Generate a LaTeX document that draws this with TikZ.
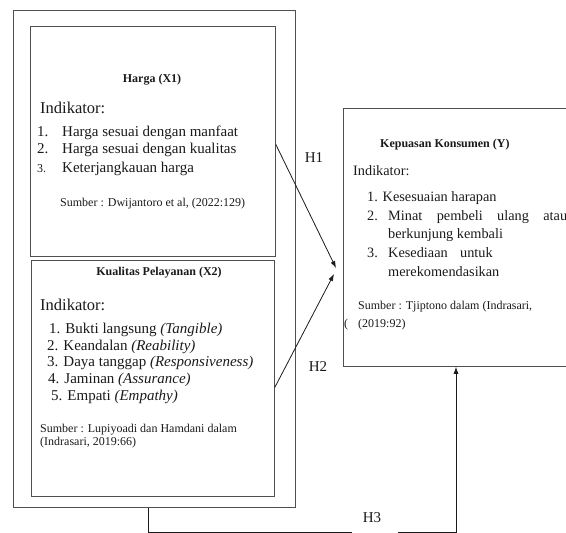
\documentclass[tikz,border=0pt]{standalone}
\usepackage{fontspec}
\setmainfont{Liberation Serif}
\usetikzlibrary{arrows.meta,calc,positioning}
\definecolor{kfink}{HTML}{1A1A1A}
\definecolor{kfline}{HTML}{505050}
\tikzset{
  kf box/.style={draw=kfline, line width=0.8pt, inner sep=0pt, anchor=north west},
  kf title/.style={font=\fontsize{12}{14}\selectfont\bfseries, text=kfink, inner sep=0pt},
  kf head/.style={font=\fontsize{16.5}{19}\selectfont, text=kfink, inner sep=0pt, anchor=west},
  kf item/.style={font=\fontsize{15}{17}\selectfont, text=kfink, inner sep=0pt, anchor=west},
  kf yitem/.style={font=\fontsize{14.3}{17}\selectfont, text=kfink, inner sep=0pt, anchor=west},
  kf src/.style={font=\fontsize{12}{14}\selectfont, text=kfink, inner sep=0pt, anchor=west},
  kf arrow/.style={-{Latex[length=7pt,width=5pt]}, line width=0.8pt, draw=kfink},
  kf hyp/.style={font=\fontsize{15}{17}\selectfont, text=kfink, inner sep=0pt}
}

\begin{document}
\begin{tikzpicture}[x=1pt, y=-1pt]
  \useasboundingbox (0,0) rectangle (566,533);
  \clip (0,0) rectangle (566,533);
  % boxes
  \node[kf box, minimum width=282pt, minimum height=497pt] (outer) at (13,10) {};
  \node[kf box, minimum width=245pt, minimum height=230pt] (harga) at (30,26) {};
  \node[kf box, minimum width=243pt, minimum height=236pt] (kual) at (31,260) {};
  \node[kf box, minimum width=240pt, minimum height=258pt] (kepuasan) at (343,108) {};

  % Harga (X1)
  \node[kf title] (hargatitle) at (152,80) {Harga (X1)};
  \node[kf head] (hargaind) at (40,108) {Indikator:};
  \node[kf item] (hargai1) at (37,133) {\makebox[25pt][l]{1.}Harga sesuai dengan manfaat};
  \node[kf item] (hargai2) at (37,150) {\makebox[25pt][l]{2.}Harga sesuai dengan kualitas};
  \node[kf item] (hargai3) at (37,169) {\makebox[25pt][l]{\fontsize{12}{14}\selectfont 3.}Keterjangkauan harga};
  \node[kf src] (hargasrc) at (60,204) {Sumber : Dwijantoro et al, (2022:129)};

  % Kualitas Pelayanan (X2)
  \node[kf title] (kualtitle) at (159,273) {Kualitas Pelayanan (X2)};
  \node[kf head] (kualind) at (40,305) {Indikator:};
  \foreach \i/\x/\y/\lab in {1/49/330/Bukti langsung \textit{(Tangible)},
      2/47/347/Keandalan \textit{(Reability)},
      3/47/363/Daya tanggap \textit{(Responsiveness)},
      4/48/380/Jaminan \textit{(Assurance)},
      5/51/397/Empati \textit{(Empathy)}} {
    \node[kf item] (kuali\i) at (\x,\y) {\i. \lab};
  }
  \node[kf src] (kualsrc1) at (40,430) {Sumber : Lupiyoadi dan Hamdani dalam};
  \node[kf src] (kualsrc2) at (40,443) {(Indrasari, 2019:66)};

  % Kepuasan Konsumen (Y)
  \node[kf title, anchor=west] (ytitle) at (380,145) {Kepuasan Konsumen (Y)};
  \node[kf yitem] (yind) at (353,171) {Indikator:};
  \node[kf yitem] (yi1) at (367,198) {1. Kesesuaian harapan};
  \node[kf yitem] (yi2) at (367,217) {\makebox[21pt][l]{2.}\makebox[179pt][s]{Minat pembeli ulang atau}};
  \node[kf yitem] (yi2b) at (388,235) {berkunjung kembali};
  \node[kf yitem] (yi3) at (367,253) {\makebox[21pt][l]{3.}\makebox[72pt][l]{Kesediaan}untuk};
  \node[kf yitem] (yi3b) at (388,272) {merekomendasikan};
  \node[kf src] (ysrc1) at (358,307) {Sumber : Tjiptono dalam (Indrasari,};
  \node[kf src] (ysrcpar) at (344,325) {(};
  \node[kf src] (ysrc2) at (358,325) {(2019:92)};

  % hypotheses
  \coordinate (h1tip) at (336,268);
  \coordinate (h2tip) at (334,274);
  \coordinate (h3a) at (148,532);
  \coordinate (h3b) at (456,532);
  \draw[kf arrow] ([yshift=-3pt]harga.east) -- (h1tip);
  \draw[kf arrow] ([yshift=-9pt]kual.east) -- (h2tip);
  \draw[kf arrow] (outer.south -| h3a) -- (h3a) -- (h3b) -- (kepuasan.south -| h3b);
  \fill[white] (352,528) rectangle (398,536);
  \node[kf hyp] (h1) at (314,158) {H1};
  \node[kf hyp] (h2) at (318,367) {H2};
  \node[kf hyp] (h3) at (372,518) {H3};
\end{tikzpicture}
\end{document}
